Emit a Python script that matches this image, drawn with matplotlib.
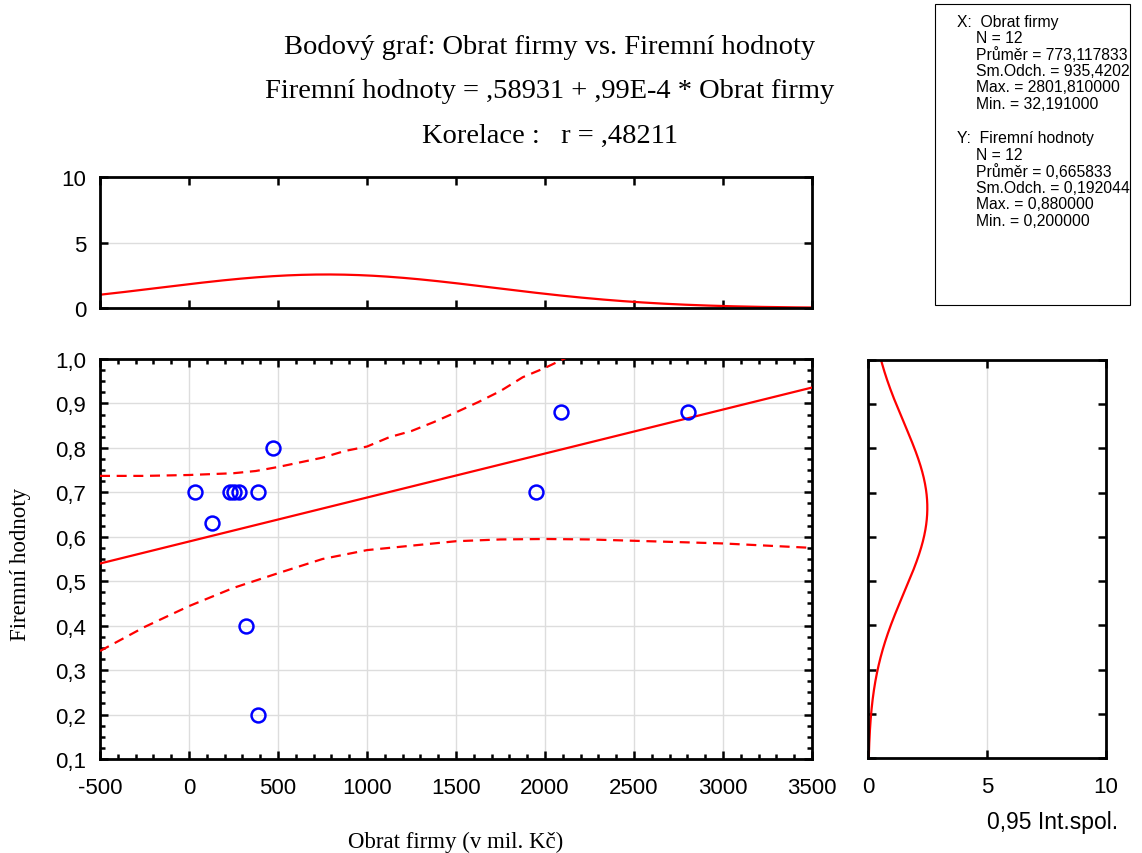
import numpy as np
import matplotlib
matplotlib.use("Agg")
import matplotlib.pyplot as plt
from matplotlib.ticker import MultipleLocator, FixedLocator

# ---------------- data ----------------
obrat = [32.19, 129, 230, 255, 280, 385, 470, 320, 385, 1950, 2090, 2801.81]
hodnoty = [0.70, 0.63, 0.70, 0.70, 0.70, 0.70, 0.80, 0.40, 0.20, 0.70, 0.88, 0.88]

intercept = 0.58931
slope = 0.99e-4

band_up_x = [-500, -250, 0, 125, 250, 375, 500, 750, 875, 1000, 1125, 1250, 1375,
             1500, 1625, 1750, 1875, 2000, 2120]
band_up_y = [0.737, 0.737, 0.739, 0.741, 0.743, 0.748, 0.757, 0.778, 0.793, 0.803,
             0.824, 0.838, 0.858, 0.880, 0.903, 0.928, 0.959, 0.980, 1.003]
band_lo_x = [-500, -250, 0, 250, 500, 750, 1000, 1250, 1500, 1750, 2000, 2250, 2500,
             2750, 3000, 3250, 3500]
band_lo_y = [0.343, 0.397, 0.444, 0.485, 0.518, 0.550, 0.570, 0.580, 0.590, 0.594,
             0.595, 0.594, 0.591, 0.588, 0.585, 0.580, 0.575]

n = 12
x_mean, x_sd, x_bin = 773.117833, 935.4202, 500
y_mean, y_sd, y_bin = 0.665833, 0.192044, 0.1

x_ticks = [-500, 0, 500, 1000, 1500, 2000, 2500, 3000, 3500]
y_ticks = [0.1, 0.2, 0.3, 0.4, 0.5, 0.6, 0.7, 0.8, 0.9, 1.0]
marg_ticks = [0, 5, 10]

title_lines = ["Bodový graf: Obrat firmy vs. Firemní hodnoty",
               "Firemní hodnoty = ,58931 + ,99E-4 * Obrat firmy",
               "Korelace :   r = ,48211"]
stats_x = ["X:  Obrat firmy", "N = 12", "Průměr = 773,117833", "Sm.Odch. = 935,4202",
           "Max. = 2801,810000", "Min. = 32,191000"]
stats_y = ["Y:  Firemní hodnoty", "N = 12", "Průměr = 0,665833", "Sm.Odch. = 0,192044",
           "Max. = 0,880000", "Min. = 0,200000"]

# ---------------- figure ----------------
W, H = 1142, 854
fig = plt.figure(figsize=(W / 100, H / 100), dpi=100)
SANS = "Liberation Sans"
SERIF = "Liberation Serif"
TICK_FS = 16


def px_axes(l, t, r, b):
    return fig.add_axes([l / W, 1 - b / H, (r - l) / W, (b - t) / H])


def fmt(v):
    return ("%.1f" % v).replace(".", ",")


def style(ax):
    for s in ax.spines.values():
        s.set_linewidth(2.0)
        s.set_color("black")
    ax.tick_params(which="both", direction="in", top=True, right=True,
                   color="black", width=1.8)
    ax.tick_params(which="major", length=6)
    ax.tick_params(which="minor", length=3.5)
    ax.grid(True, which="major", color="#dddddd", linewidth=1.0)
    ax.set_axisbelow(True)


# main axes
ax = px_axes(100, 360, 812, 760)
style(ax)
ax.set_xlim(-500, 3500)
ax.set_ylim(0.1, 1.0)
ax.xaxis.set_major_locator(FixedLocator(x_ticks))
ax.xaxis.set_minor_locator(MultipleLocator(100))
ax.yaxis.set_major_locator(FixedLocator(y_ticks))
ax.yaxis.set_minor_locator(MultipleLocator(0.025))
ax.set_xticklabels([str(t) for t in x_ticks], fontsize=TICK_FS, family=SANS)
ax.set_yticklabels([fmt(t) for t in y_ticks], fontsize=TICK_FS, family=SANS)
ax.tick_params(axis="x", which="major", pad=13)
ax.tick_params(axis="y", which="major", pad=10)

xl = np.array(ax.get_xlim())
ax.plot(xl, intercept + slope * xl, color="red", lw=1.6, zorder=3)
ax.plot(band_up_x, band_up_y, color="red", lw=1.6, ls=(0, (4.5, 3)), zorder=3)
ax.plot(band_lo_x, band_lo_y, color="red", lw=1.6, ls=(0, (4.5, 3)), zorder=3)
ax.plot(obrat, hodnoty, ls="none", marker="o", ms=10, mfc="none", mec="#0000ff",
        mew=1.8, zorder=4)
ax.set_xlabel("Obrat firmy (v mil. Kč)", fontsize=16.5, family=SERIF)
ax.set_ylabel("Firemní hodnoty", fontsize=16.5, family=SERIF)
ax.xaxis.set_label_coords(0.5, -(842 - 760) / 400, transform=ax.transAxes)
ax.yaxis.set_label_coords(-(100 - 21) / 712, 0.49, transform=ax.transAxes)
ax.xaxis.label.set_va("center")
ax.yaxis.label.set_va("center")

# top marginal
axt = px_axes(100, 178, 812, 309)
style(axt)
axt.set_xlim(-500, 3500)
axt.set_ylim(0, 10)
axt.xaxis.set_major_locator(FixedLocator(x_ticks))
axt.xaxis.set_minor_locator(plt.NullLocator())
axt.yaxis.set_major_locator(FixedLocator(marg_ticks))
axt.set_xticklabels([])
axt.set_yticklabels([str(t) for t in marg_ticks], fontsize=TICK_FS, family=SANS)
axt.tick_params(axis="y", which="major", pad=10)
axt.grid(True, axis="y", color="#dddddd")
axt.grid(False, axis="x")
xs = np.linspace(-500, 3500, 400)
dens_x = n * x_bin * np.exp(-0.5 * ((xs - x_mean) / x_sd) ** 2) / (x_sd * np.sqrt(2 * np.pi))
axt.plot(xs, dens_x, color="red", lw=1.6)

# right marginal
axr = px_axes(868, 361, 1106, 759)
style(axr)
axr.set_xlim(0, 10)
axr.set_ylim(0.1, 1.0)
axr.xaxis.set_major_locator(FixedLocator(marg_ticks))
axr.yaxis.set_major_locator(FixedLocator(y_ticks))
axr.yaxis.set_minor_locator(plt.NullLocator())
axr.set_yticklabels([])
axr.set_xticklabels([str(t) for t in marg_ticks], fontsize=TICK_FS, family=SANS)
axr.tick_params(axis="x", which="major", pad=13)
axr.grid(True, axis="x", color="#dddddd")
axr.grid(False, axis="y")
ys = np.linspace(0.1, 1.0, 400)
dens_y = n * y_bin * np.exp(-0.5 * ((ys - y_mean) / y_sd) ** 2) / (y_sd * np.sqrt(2 * np.pi))
axr.plot(dens_y, ys, color="red", lw=1.6)
fig.text(1118 / W, 1 - 823 / H, "0,95 Int.spol.", ha="right", va="center",
         fontsize=16.5, family=SANS)

# titles
for i, line in enumerate(title_lines):
    fig.text(550 / W, 1 - (47 + 44.5 * i) / H, line, ha="center", va="center",
             fontsize=20.5, family=SERIF)

# stats box
box = plt.Rectangle((935 / W, 1 - 306 / H), (1130 - 935) / W, (306 - 5) / H,
                    transform=fig.transFigure, fill=False, edgecolor="black", lw=0.8)
fig.add_artist(box)
for block, y0 in ((stats_x, 22), (stats_y, 139)):
    for j, line in enumerate(block):
        xpos = 957 if j == 0 else 976
        fig.text(xpos / W, 1 - (y0 + 16.5 * j) / H, line, ha="left", va="center",
                 fontsize=11.3, family=SANS)

fig.savefig("out.png", dpi=100)
